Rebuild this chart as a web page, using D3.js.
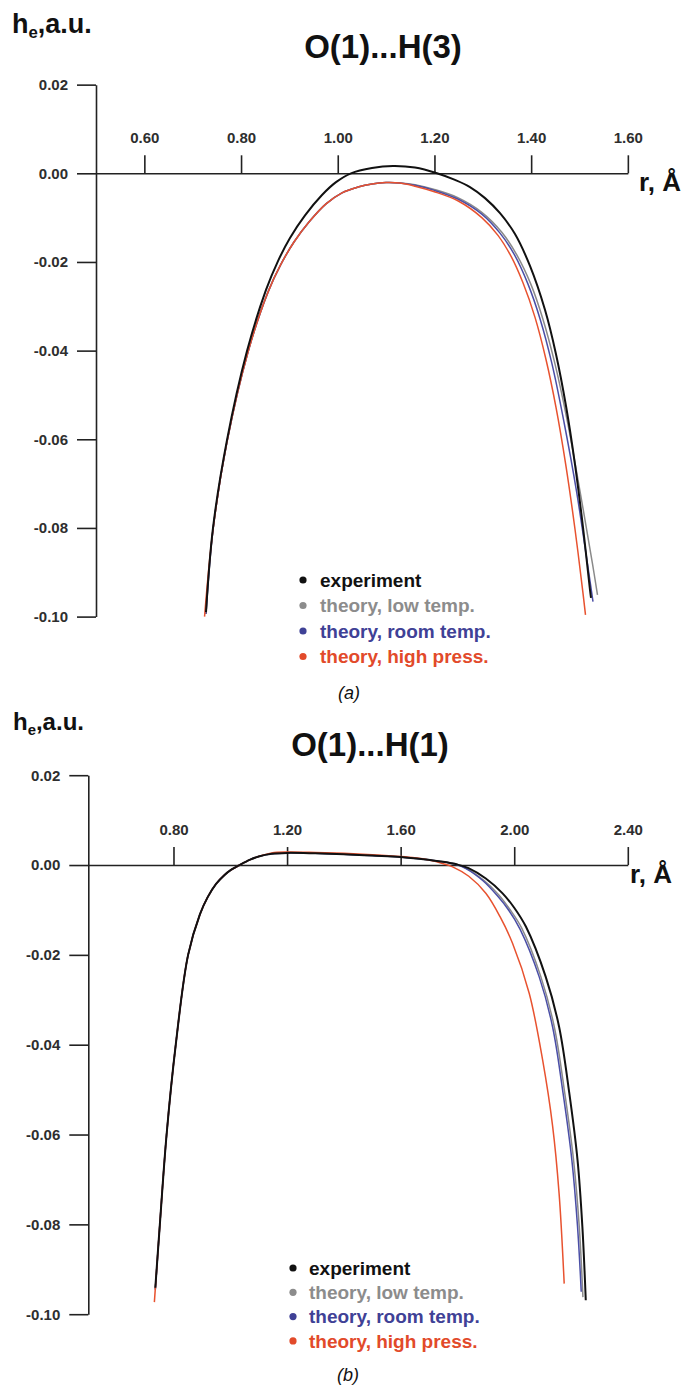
<!DOCTYPE html>
<html>
<head>
<meta charset="utf-8">
<script src="https://cdn.jsdelivr.net/npm/d3@7"></script>
<style>
  body { margin: 0; background: #fff; }
  svg { display: block; }
  text { font-family: "Liberation Sans", Arial, sans-serif; }
</style>
</head>
<body>
<svg id="container" width="684" height="1385"></svg>
<script>
// ---- data: [r (Å), h_e (a.u.)] ----
const seriesNames = ['theory, low temp.', 'theory, room temp.', 'theory, high press.', 'experiment'];
const legendOrder = ['experiment', 'theory, low temp.', 'theory, room temp.', 'theory, high press.'];
const seriesColors = ['#8a8a8a', '#4a4ea6', '#e8522f', '#111111'];
const legendColors = ['#111111', '#8c8c8c', '#3f4196', '#e24a2a'];

const yTicks = [0.02, 0.00, -0.02, -0.04, -0.06, -0.08, -0.10];
const aXTicks = [0.60, 0.80, 1.00, 1.20, 1.40, 1.60];
const bXTicks = [0.80, 1.20, 1.60, 2.00, 2.40];

// panel (a) O(1)...H(3)
const aExperiment = [[0.7275, -0.0990], [0.7420, -0.0800], [0.7709, -0.0602], [0.8123, -0.0401], [0.8516, -0.0263],
  [0.8764, -0.0198], [0.9012, -0.0146], [0.9323, -0.0095], [0.9674, -0.0049], [0.9964, -0.0020], [1.0274, 0.0000],
  [1.0708, 0.0012], [1.1143, 0.00165], [1.1598, 0.0013], [1.2053, 0.0000], [1.2425, -0.0015], [1.2735, -0.0031],
  [1.3046, -0.0056], [1.3356, -0.0090], [1.3666, -0.0137], [1.3976, -0.0209], [1.4286, -0.0308], [1.4514, -0.0408],
  [1.4721, -0.0525], [1.4907, -0.0657], [1.5072, -0.0798], [1.5217, -0.0940], [1.5238, -0.0958]];
const aLowTemp = [[0.7275, -0.0994], [0.7420, -0.0804], [0.7709, -0.0606], [0.8144, -0.0403], [0.8557, -0.0268],
  [0.8826, -0.0205], [0.9095, -0.0155], [0.9405, -0.0110], [0.9757, -0.0069], [1.0088, -0.0044], [1.0419, -0.0031],
  [1.0708, -0.0024], [1.0998, -0.0021], [1.1288, -0.0022], [1.1598, -0.0026], [1.1982, -0.0036], [1.2483, -0.0055],
  [1.2979, -0.0088], [1.3393, -0.0133], [1.3703, -0.0184], [1.3993, -0.0250], [1.4241, -0.0328], [1.4493, -0.0430],
  [1.4752, -0.0561], [1.5010, -0.0717], [1.5269, -0.0881], [1.5372, -0.0951]];
const aRoomTemp = [[0.7275, -0.0994], [0.7420, -0.0804], [0.7709, -0.0606], [0.8144, -0.0403], [0.8557, -0.0268],
  [0.8826, -0.0205], [0.9095, -0.0155], [0.9405, -0.0110], [0.9757, -0.0069], [1.0088, -0.0044], [1.0419, -0.0031],
  [1.0708, -0.0024], [1.0998, -0.0021], [1.1288, -0.0022], [1.1598, -0.0027], [1.1982, -0.0038], [1.2483, -0.0058],
  [1.2979, -0.0092], [1.3356, -0.0135], [1.3656, -0.0184], [1.3935, -0.0250], [1.4183, -0.0328], [1.4431, -0.0430],
  [1.4679, -0.0561], [1.4938, -0.0717], [1.5165, -0.0881], [1.5279, -0.0966]];
const aHighPress = [[0.7245, -0.1000], [0.7420, -0.0804], [0.7709, -0.0606], [0.8144, -0.0403], [0.8557, -0.0268],
  [0.8826, -0.0205], [0.9095, -0.0155], [0.9405, -0.0110], [0.9757, -0.0069], [1.0088, -0.0044], [1.0419, -0.0031],
  [1.0708, -0.0024], [1.0998, -0.0021], [1.1288, -0.0022], [1.1598, -0.0029], [1.1982, -0.0041], [1.2483, -0.0062],
  [1.2979, -0.0100], [1.3314, -0.0140], [1.3583, -0.0187], [1.3831, -0.0247], [1.4080, -0.0325], [1.4307, -0.0420],
  [1.4514, -0.0528], [1.4721, -0.0661], [1.4907, -0.0803], [1.5072, -0.0947], [1.5124, -0.0996]];

// panel (b) O(1)...H(1)
const bExperiment = [[0.736, -0.0941], [0.752, -0.0800], [0.7756, -0.0601], [0.808, -0.0400], [0.8515, -0.0200],
  [0.893, -0.0110], [0.920, -0.0072], [0.950, -0.0042], [0.980, -0.0022], [1.000, -0.0012], [1.033, 0.0000],
  [1.070, 0.0012], [1.100, 0.0019], [1.146, 0.0025], [1.200, 0.0027], [1.300, 0.0026], [1.400, 0.0024],
  [1.500, 0.0021], [1.600, 0.0018], [1.680, 0.0013], [1.740, 0.0008], [1.800, 0.0001], [1.839, -0.0007],
  [1.900, -0.0030], [1.959, -0.0063], [2.000, -0.0095], [2.041, -0.0137], [2.111, -0.0249], [2.158, -0.0360],
  [2.194, -0.0508], [2.223, -0.0657], [2.240, -0.0805], [2.252, -0.0969]];
const bLowTemp = [[0.736, -0.0945], [0.752, -0.0800], [0.7756, -0.0601], [0.808, -0.0400], [0.8515, -0.0200],
  [0.893, -0.0110], [0.920, -0.0072], [0.950, -0.0042], [0.980, -0.0022], [1.000, -0.0012], [1.033, 0.0000],
  [1.070, 0.0012], [1.100, 0.0019], [1.146, 0.0025], [1.200, 0.0027], [1.300, 0.0026], [1.400, 0.0024],
  [1.500, 0.0021], [1.600, 0.0018], [1.680, 0.0013], [1.740, 0.0008], [1.795, 0.0002], [1.833, -0.0008],
  [1.893, -0.0034], [1.945, -0.0066], [1.985, -0.0099], [2.026, -0.0140], [2.094, -0.0249], [2.141, -0.0360],
  [2.178, -0.0508], [2.209, -0.0657], [2.229, -0.0805], [2.242, -0.0962]];
const bRoomTemp = [[0.736, -0.0945], [0.752, -0.0800], [0.7756, -0.0601], [0.808, -0.0400], [0.8515, -0.0200],
  [0.893, -0.0110], [0.920, -0.0072], [0.950, -0.0042], [0.980, -0.0022], [1.000, -0.0012], [1.033, 0.0000],
  [1.070, 0.0012], [1.100, 0.0019], [1.146, 0.0025], [1.200, 0.0027], [1.300, 0.0026], [1.400, 0.0024],
  [1.500, 0.0021], [1.600, 0.0018], [1.680, 0.0013], [1.740, 0.0008], [1.790, 0.0002], [1.830, -0.0008],
  [1.890, -0.0035], [1.940, -0.0068], [1.980, -0.0100], [2.020, -0.0142], [2.088, -0.0249], [2.135, -0.0360],
  [2.172, -0.0508], [2.203, -0.0657], [2.223, -0.0805], [2.236, -0.0950]];
const bHighPress = [[0.7327, -0.0973], [0.752, -0.0800], [0.7756, -0.0601], [0.808, -0.0400], [0.8515, -0.0200],
  [0.893, -0.0110], [0.920, -0.0072], [0.950, -0.0042], [0.980, -0.0022], [1.000, -0.0012], [1.033, 0.0000],
  [1.070, 0.0012], [1.100, 0.0019], [1.146, 0.0027], [1.200, 0.0029], [1.300, 0.0028], [1.400, 0.0026],
  [1.500, 0.0023], [1.600, 0.0019], [1.650, 0.0016], [1.700, 0.0011], [1.750, 0.0003], [1.783, -0.0004],
  [1.840, -0.0025], [1.900, -0.0063], [1.950, -0.0115], [1.994, -0.0174], [2.053, -0.0286], [2.100, -0.0434],
  [2.135, -0.0580], [2.158, -0.0731], [2.176, -0.0932]];

const svg = d3.select('#container');
svg.append('rect').attr('width', 684).attr('height', 1385).attr('fill', '#fff');

const panels = [
  {
    title: 'O(1)...H(3)', caption: '(a)',
    series: [aLowTemp, aRoomTemp, aHighPress, aExperiment],
    xDomain: [0.5, 1.6], xRange: [96, 627.85], yRange: [84.64, 616.6], xTicks: aXTicks,
    labelPos: [12, 33], labelSize: 27, titlePos: [383, 58],
    unitPos: [639, 191], legendPos: [303, 320, 580, 25.5], captionPos: [349, 699]
  },
  {
    title: 'O(1)...H(1)', caption: '(b)',
    series: [bLowTemp, bRoomTemp, bHighPress, bExperiment],
    xDomain: [0.5, 2.4], xRange: [88.3, 627.8], yRange: [775.2, 1314.2], xTicks: bXTicks,
    labelPos: [13, 730], labelSize: 24, titlePos: [370, 756],
    unitPos: [630, 883], legendPos: [293, 309, 1268, 24.3], captionPos: [348, 1381]
  }
];

panels.forEach(p => {
  const g = svg.append('g');
  const x = d3.scaleLinear().domain(p.xDomain).range(p.xRange);
  const y = d3.scaleLinear().domain([0.02, -0.10]).range(p.yRange);

  // y axis
  const yAxis = g.append('g')
    .attr('transform', `translate(${x(p.xDomain[0])},0)`)
    .call(d3.axisLeft(y).tickValues(yTicks).tickSize(19).tickSizeOuter(0).tickPadding(9)
      .tickFormat(d => d.toFixed(2)));

  // x axis at h = 0
  const xAxis = g.append('g')
    .attr('transform', `translate(0,${y(0)})`)
    .call(d3.axisTop(x).tickValues(p.xTicks).tickSize(18).tickSizeOuter(0).tickPadding(12)
      .tickFormat(d => d.toFixed(2)));

  [yAxis, xAxis].forEach(ax => {
    ax.selectAll('path, line').attr('stroke', '#222').attr('stroke-width', 1.6);
    ax.selectAll('text')
      .attr('font-size', 15).attr('font-weight', 'bold').attr('fill', '#2e2e2e')
      .attr('font-family', '"Liberation Sans", Arial, sans-serif');
  });

  // curves
  const line = d3.line()
    .x(d => x(d[0]))
    .y(d => y(d[1]))
    .curve(d3.curveCatmullRom.alpha(0.5));

  g.append('g')
    .selectAll('path')
    .data(p.series)
    .enter()
    .append('path')
    .attr('d', line)
    .attr('fill', 'none')
    .attr('stroke', (d, i) => seriesColors[i])
    .attr('stroke-width', (d, i) => i === 3 ? 2 : 1.5);

  // axis labels and title
  const lab = g.append('text')
    .attr('x', p.labelPos[0]).attr('y', p.labelPos[1])
    .attr('font-size', p.labelSize).attr('font-weight', 'bold').attr('fill', '#111');
  lab.append('tspan').text('h');
  lab.append('tspan').text('e').attr('font-size', p.labelSize * 0.62).attr('dy', p.labelSize * 0.2);
  lab.append('tspan').text(',a.u.').attr('dy', -p.labelSize * 0.2);

  g.append('text')
    .attr('x', p.titlePos[0]).attr('y', p.titlePos[1])
    .attr('text-anchor', 'middle')
    .attr('font-size', 33).attr('font-weight', 'bold').attr('fill', '#111')
    .text(p.title);

  g.append('text')
    .attr('x', p.unitPos[0]).attr('y', p.unitPos[1])
    .attr('font-size', 26).attr('font-weight', 'bold').attr('fill', '#111')
    .text('r, Å');

  // legend
  const [dotX, textX, top, step] = p.legendPos;
  const leg = g.append('g')
    .selectAll('g')
    .data(legendOrder)
    .enter()
    .append('g')
    .attr('transform', (d, i) => `translate(0,${top + i * step})`);
  leg.append('circle')
    .attr('cx', dotX).attr('cy', 0).attr('r', 3.6)
    .attr('fill', (d, i) => legendColors[i]);
  leg.append('text')
    .attr('x', textX).attr('y', 0).attr('dy', '0.36em')
    .attr('font-size', 19).attr('font-weight', 'bold')
    .attr('fill', (d, i) => legendColors[i])
    .text(d => d);

  g.append('text')
    .attr('x', p.captionPos[0]).attr('y', p.captionPos[1])
    .attr('text-anchor', 'middle')
    .attr('font-family', '"Liberation Serif", "Times New Roman", serif')
    .attr('font-style', 'italic').attr('font-size', 18).attr('fill', '#111')
    .text(p.caption);
});
</script>
</body>
</html>
